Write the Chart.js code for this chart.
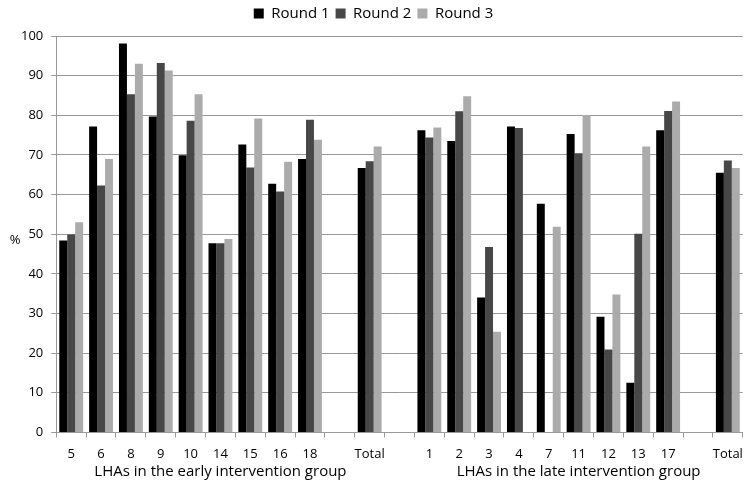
<!DOCTYPE html>
<html>
<head>
<meta charset="utf-8">
<script src="https://cdn.jsdelivr.net/npm/chart.js@4"></script>
<style>
  html, body { margin: 0; padding: 0; background: #fff; }
  #wrap { width: 752px; height: 484px; }
</style>
</head>
<body>
<div id="wrap"><canvas id="chart"></canvas></div>
<script>
// Categories: LHAs (early group, gap, Total, gap, late group, gap, Total)
const categories = ['5', '6', '8', '9', '10', '14', '15', '16', '18', '', 'Total', '',
  '1', '2', '3', '4', '7', '11', '12', '13', '17', '', 'Total'];

// Percent per round (null = no bar)
const round1 = [48.4, 77.2, 98.1, 79.7, 69.9, 47.7, 72.6, 62.7, 69.0, null, 66.7, null,
  76.2, 73.5, 34.0, 77.2, 57.7, 75.3, 29.2, 12.5, 76.2, null, 65.5];
const round2 = [49.9, 62.3, 85.3, 93.2, 78.6, 47.7, 66.8, 60.8, 78.9, null, 68.4, null,
  74.4, 81.0, 46.8, 76.8, null, 70.4, 20.9, 50.1, 81.1, null, 68.6];
const round3 = [53.0, 69.0, 93.0, 91.3, 85.3, 48.8, 79.2, 68.3, 73.8, null, 72.1, null,
  76.9, 84.8, 25.4, null, 51.9, 80.1, 34.8, 72.1, 83.5, null, 66.7];

const yTicks = [0, 10, 20, 30, 40, 50, 60, 70, 80, 90, 100];

// Group captions under the axis, centred on a category index
const groupLabels = [
  { text: 'LHAs in the early intervention group', at: 5 },
  { text: 'LHAs in the late intervention group', at: 17 }
];

const FONT = '"Open Sans", "Liberation Sans", sans-serif';

// Draws the "%" label and the group captions
const extraLabels = {
  id: 'extraLabels',
  beforeInit(chart) {
    // leave a little more room under the legend
    const fit = chart.legend.fit;
    chart.legend.fit = function() {
      fit.call(this);
      this.height += 5;
    };
  },
  afterDraw(chart) {
    const ctx = chart.ctx;
    const x = chart.scales.x;
    const y = chart.scales.y;
    ctx.save();
    ctx.fillStyle = '#000';
    ctx.font = '15px ' + FONT;
    ctx.textAlign = 'center';
    ctx.textBaseline = 'middle';
    groupLabels.forEach(g => {
      ctx.fillText(g.text, x.getPixelForValue(g.at), 472);
    });
    ctx.font = '13px ' + FONT;
    ctx.fillText('%', 15, y.getPixelForValue(48.5));
    ctx.restore();
  }
};

new Chart(document.getElementById('chart'), {
  type: 'bar',
  data: {
    labels: categories,
    datasets: [
      { label: 'Round 1', data: round1, backgroundColor: '#000000' },
      { label: 'Round 2', data: round2, backgroundColor: '#474747' },
      { label: 'Round 3', data: round3, backgroundColor: '#ababab' }
    ]
  },
  options: {
    responsive: true,
    maintainAspectRatio: false,
    animation: false,
    layout: { padding: { left: 0, right: 5, top: 0, bottom: 13 } },
    datasets: {
      bar: { categoryPercentage: 0.8, barPercentage: 1.0, borderWidth: 0 }
    },
    scales: {
      x: {
        grid: { offset: true, drawOnChartArea: false, tickLength: 5, color: '#999' },
        border: { color: '#999' },
        ticks: { color: '#000', font: { family: FONT, size: 13 }, maxRotation: 0, autoSkip: false, padding: 9 }
      },
      y: {
        min: 0,
        max: 100,
        afterBuildTicks: axis => { axis.ticks = yTicks.map(v => ({ value: v })); },
        afterFit: axis => { axis.width += 13; },
        grid: { color: '#999', tickLength: 5 },
        border: { color: '#999' },
        ticks: { color: '#000', font: { family: FONT, size: 13 }, padding: 8 }
      }
    },
    plugins: {
      legend: {
        position: 'top',
        labels: {
          boxWidth: 10, boxHeight: 10, padding: 6,
          color: '#000', font: { family: FONT, size: 15 }
        }
      },
      tooltip: { enabled: false }
    }
  },
  plugins: [extraLabels]
});
</script>
</body>
</html>
